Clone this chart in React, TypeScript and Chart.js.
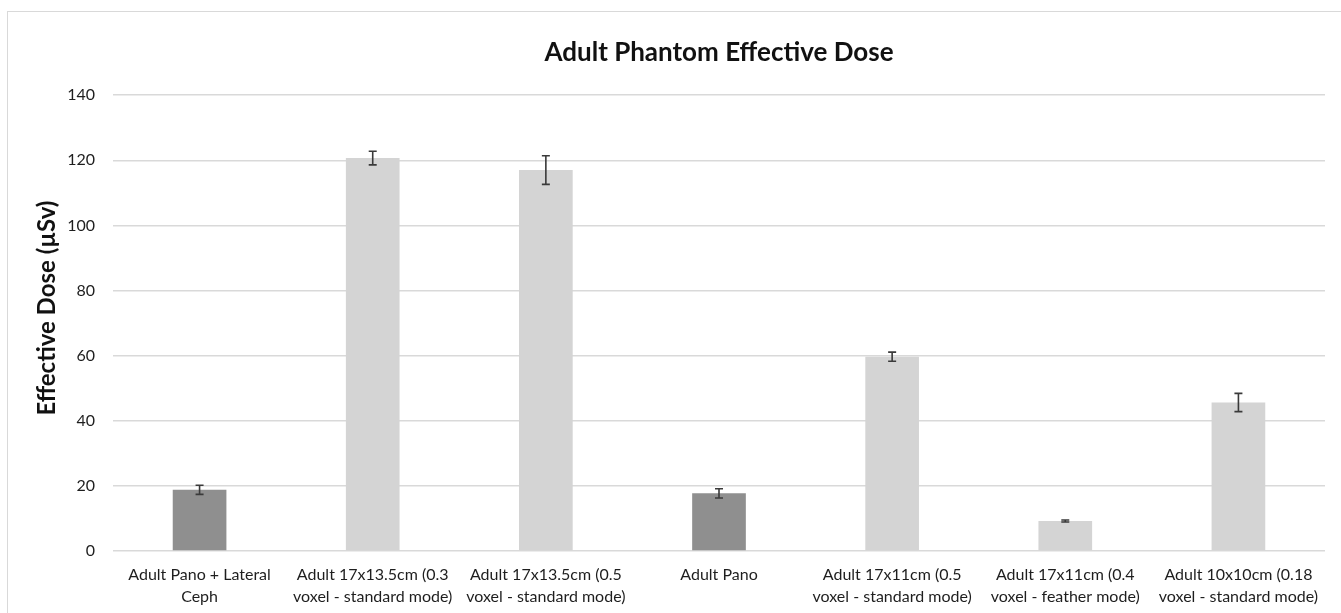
import React, { useEffect, useRef } from "react";
import { Chart, registerables } from "chart.js";

Chart.register(...registerables);

const chartTitle = "Adult Phantom Effective Dose";
const yAxisTitle = "Effective Dose (µSv)";

const categories: string[][] = [
  ["Adult Pano + Lateral", "Ceph"],
  ["Adult 17x13.5cm (0.3", "voxel - standard mode)"],
  ["Adult 17x13.5cm (0.5", "voxel - standard mode)"],
  ["Adult Pano"],
  ["Adult 17x11cm (0.5", "voxel - standard mode)"],
  ["Adult 17x11cm (0.4", "voxel - feather mode)"],
  ["Adult 10x10cm (0.18", "voxel - standard mode)"],
];

const doseValues: number[] = [18.8, 120.7, 117.0, 17.7, 59.7, 9.2, 45.6];
const doseErrors: number[] = [1.4, 2.1, 4.4, 1.4, 1.4, 0.3, 2.8];
const barColors: string[] = ["#8f8f8f", "#d4d4d4", "#d4d4d4", "#8f8f8f", "#d4d4d4", "#d4d4d4", "#d4d4d4"];

const yMin = 0;
const yMax = 140;
const yStep = 20;

const FONT = "Lato, 'Open Sans', 'DejaVu Sans', sans-serif";

const errorBarPlugin = {
  id: "errorBars",
  afterDatasetsDraw(chart: any) {
    const meta = chart.getDatasetMeta(0);
    const yScale = chart.scales.y;
    const ctx = chart.ctx;
    ctx.save();
    ctx.strokeStyle = "#3a3a3a";
    ctx.lineWidth = 1.6;
    meta.data.forEach((bar: any, i: number) => {
      const v = doseValues[i];
      const e = doseErrors[i];
      const x = bar.x;
      const yTop = yScale.getPixelForValue(v + e);
      const yBot = yScale.getPixelForValue(v - e);
      const cap = 4;
      ctx.beginPath();
      ctx.moveTo(x, yTop);
      ctx.lineTo(x, yBot);
      ctx.moveTo(x - cap, yTop);
      ctx.lineTo(x + cap, yTop);
      ctx.moveTo(x - cap, yBot);
      ctx.lineTo(x + cap, yBot);
      ctx.stroke();
    });
    ctx.restore();
  },
};

// Rotated y-axis title, centred a little above the plot-area middle (as in the reference)
const yTitlePlugin = {
  id: "yTitle",
  afterDraw(chart: any) {
    const ctx = chart.ctx;
    const area = chart.chartArea;
    ctx.save();
    ctx.translate(47, (area.top + area.bottom) / 2 - 15);
    ctx.rotate(-Math.PI / 2);
    ctx.font = `bold 24px ${FONT}`;
    ctx.fillStyle = "#111111";
    ctx.textAlign = "center";
    ctx.textBaseline = "middle";
    ctx.fillText(yAxisTitle, 0, 0);
    ctx.restore();
  },
};

export default function App() {
  const canvasRef = useRef<HTMLCanvasElement | null>(null);

  useEffect(() => {
    if (!canvasRef.current) return;
    const chart = new Chart(canvasRef.current, {
      type: "bar",
      data: {
        labels: categories,
        datasets: [
          {
            data: doseValues,
            backgroundColor: barColors,
            borderWidth: 0,
            categoryPercentage: 1,
            barPercentage: 0.31,
          },
        ],
      },
      options: {
        animation: false,
        responsive: false,
        devicePixelRatio: 1,
        layout: { padding: { left: 0, right: 16, top: 0, bottom: 5 } },
        plugins: {
          legend: { display: false },
          tooltip: { enabled: false },
          title: {
            display: true,
            text: chartTitle,
            fullSize: false,
            color: "#111111",
            font: { family: FONT, size: 26, weight: "bold" },
            padding: { top: 37, bottom: 27 },
          },
        },
        scales: {
          x: {
            grid: { display: false, drawTicks: false },
            border: { display: false },
            ticks: {
              color: "#1e1e1e",
              font: { family: FONT, size: 16, lineHeight: "22px" },
              padding: 13,
              maxRotation: 0,
              autoSkip: false,
            },
            afterFit(scale: any) {
              scale.height = 57;
            },
          },
          y: {
            min: yMin,
            max: yMax,
            border: { display: false },
            grid: { color: "#d9d9d9", lineWidth: 1.5, drawTicks: false },
            ticks: {
              stepSize: yStep,
              color: "#1e1e1e",
              font: { family: FONT, size: 16 },
              padding: 18,
            },
            title: { display: false, text: yAxisTitle },
            afterFit(scale: any) {
              scale.width = 113;
            },
          },
        },
      },
      plugins: [errorBarPlugin, yTitlePlugin],
    });
    return () => chart.destroy();
  }, []);

  return (
    <div style={{ position: "fixed", left: 0, top: 0, width: 1341, height: 613, background: "#ffffff", overflow: "hidden" }}>
      <canvas ref={canvasRef} width={1341} height={613} style={{ display: "block" }} />
      <div
        style={{
          position: "absolute",
          left: 7,
          top: 11,
          width: 1360,
          height: 640,
          border: "1.5px solid #d9d9d9",
          pointerEvents: "none",
        }}
      />
    </div>
  );
}
